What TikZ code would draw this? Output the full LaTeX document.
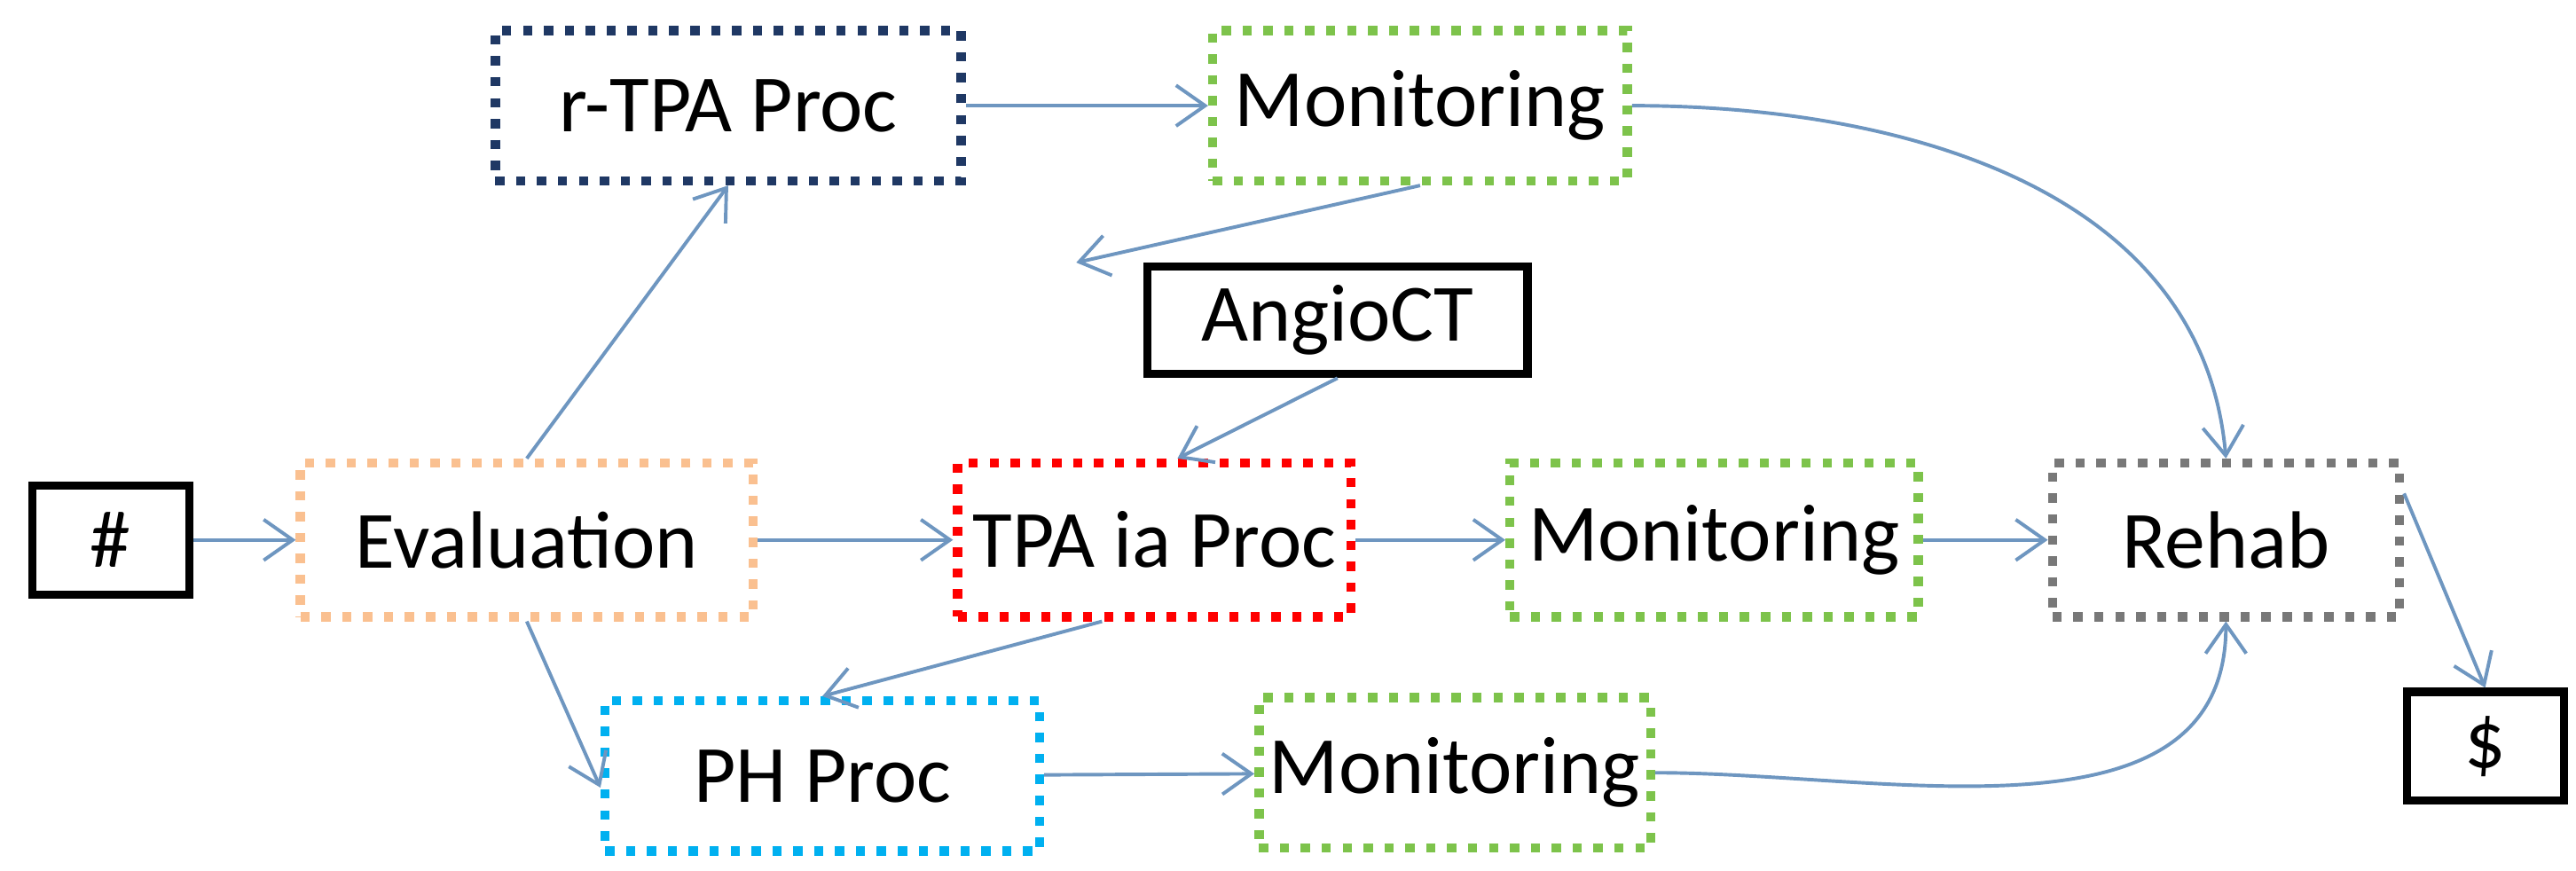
\documentclass[tikz,border=0pt]{standalone}
\usepackage{fontspec}
\setmainfont{Carlito}
\usetikzlibrary{arrows.meta}
\definecolor{arr}{RGB}{110,150,192}
\definecolor{peach}{RGB}{250,192,144}
\definecolor{navy}{RGB}{31,56,100}
\definecolor{grn}{RGB}{125,195,75}
\definecolor{cyn}{RGB}{0,176,240}
\definecolor{gry}{RGB}{120,120,120}
\begin{document}
\begin{tikzpicture}[x=0.01cm,y=-0.01cm,
  box/.style={draw=#1,line width=1.6pt,dotted,minimum height=0.91cm,inner sep=0pt,font=\fontsize{14}{16}\selectfont},
  sbox/.style={draw=black,line width=1.4pt,minimum height=0.66cm,inner sep=0pt,font=\fontsize{14}{16}\selectfont},
  ar/.style={draw=arr,line width=0.6pt,-{Straight Barb[length=5pt,width=7pt]}}]
\useasboundingbox (0,0) rectangle (1560,527);
\node[sbox,minimum width=0.95cm] (hash) at (67,327) {\#};
\node[box=peach,minimum width=2.74cm,minimum height=0.93cm] (eval) at (319,327) {Evaluation};
\node[box=navy,minimum width=2.82cm] (rtpa) at (441,64) {r-TPA Proc};
\node[box=grn,minimum width=2.51cm] (mon1) at (860,64) {Monitoring};
\node[sbox,minimum width=2.30cm,minimum height=0.65cm] (angio) at (810,194) {AngioCT};
\node[box=red,minimum width=2.38cm,minimum height=0.93cm] (tpa) at (699,327) {TPA ia Proc};
\node[box=grn,minimum width=2.47cm,minimum height=0.93cm] (mon2) at (1038,327) {Monitoring};
\node[box=gry,minimum width=2.10cm,minimum height=0.93cm] (rehab) at (1348,327) {Rehab};
\node[sbox,minimum width=0.95cm] (dollar) at (1505,452) {\$};
\node[box=cyn,minimum width=2.63cm] (ph) at (498,470) {PH Proc};
\node[box=grn,minimum width=2.37cm] (mon3) at (881,468) {Monitoring};
\draw[ar] (hash) -- (eval);
\draw[ar] (eval.north) -- (rtpa.south);
\draw[ar] (rtpa) -- (mon1);
\draw[ar] (mon1.south) -- ([xshift=-45]angio.north);
\draw[ar] (angio.south) -- ([xshift=4]tpa.north);
\draw[ar] (eval) -- (tpa);
\draw[ar] (tpa) -- (mon2);
\draw[ar] (mon2) -- (rehab);
\draw[ar] (mon1.east) to[out=0,in=95] (rehab.north);
\draw[ar] (eval.south) -- ([yshift=-2]ph.west);
\draw[ar] ([xshift=-9]tpa.south) -- (ph.north);
\draw[ar] (ph) -- (mon3);
\draw[ar] (mon3.east) to[out=0,in=-90] (rehab.south);
\draw[ar] ([yshift=8]rehab.east) -- (dollar.north);
\end{tikzpicture}
\end{document}
